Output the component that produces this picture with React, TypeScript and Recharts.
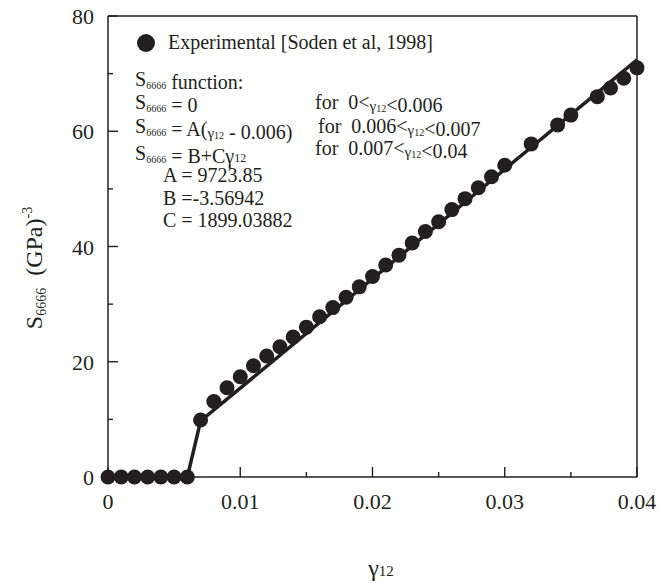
import React from "react";
import {
  ComposedChart,
  Line,
  Scatter,
  XAxis,
  YAxis,
  Legend,
  Customized,
} from "recharts";

const INK = "#231f20";
const FONT = "'Liberation Serif', 'Times New Roman', serif";

// experimental points (Soden et al, 1998)
const strain = [
  0, 0.001, 0.002, 0.003, 0.004, 0.005, 0.006, 0.007, 0.008, 0.009, 0.01,
  0.011, 0.012, 0.013, 0.014, 0.015, 0.016, 0.017, 0.018, 0.019, 0.02, 0.021,
  0.022, 0.023, 0.024, 0.025, 0.026, 0.027, 0.028, 0.029, 0.03, 0.032, 0.034,
  0.035, 0.037, 0.038, 0.039, 0.04,
];
const s6666 = [
  0, 0, 0, 0, 0, 0, 0, 9.9, 13.1, 15.5, 17.4, 19.3, 21.0, 22.6, 24.3, 26.0,
  27.8, 29.4, 31.2, 33.0, 34.8, 36.8, 38.5, 40.6, 42.6, 44.3, 46.4, 48.3, 50.2,
  52.1, 54.1, 57.8, 61.1, 62.8, 66.0, 67.5, 69.2, 71.0,
];

// piecewise S6666 function
const fitStrain = [0, 0.006, 0.007, 0.04];
const fitS = [0, 0, 9.72, 72.39];

const xTicks = [0, 0.005, 0.01, 0.015, 0.02, 0.025, 0.03, 0.035, 0.04];
const xTickLabels = ["0", "", "0.01", "", "0.02", "", "0.03", "", "0.04"];
const yTicks = [0, 10, 20, 30, 40, 50, 60, 70, 80];
const yTickLabels = ["0", "", "20", "", "40", "", "60", "", "80"];

const expData = strain.map((x, i) => ({ x, y: s6666[i] }));
const fitData = fitStrain.map((x, i) => ({ x, fit: fitS[i] }));

// inward ticks: major every other one
function tickLen(index: number) {
  return index % 2 === 0 ? 10 : 5;
}

function BottomTick({ x, y, index }: any) {
  return (
    <g>
      <line x1={x} x2={x} y1={y} y2={y - tickLen(index)} stroke={INK} strokeWidth={1.4} />
      {xTickLabels[index] && (
        <text x={x} y={y + 32} textAnchor="middle" fontSize={22} fontFamily={FONT} fill={INK}>
          {xTickLabels[index]}
        </text>
      )}
    </g>
  );
}

function TopTick({ x, y, index }: any) {
  return <line x1={x} x2={x} y1={y} y2={y + tickLen(index)} stroke={INK} strokeWidth={1.4} />;
}

function LeftTick({ x, y, index }: any) {
  return (
    <g>
      <line x1={x} x2={x + tickLen(index)} y1={y} y2={y} stroke={INK} strokeWidth={1.4} />
      {yTickLabels[index] && (
        <text x={x - 14} y={y + 8} textAnchor="end" fontSize={22} fontFamily={FONT} fill={INK}>
          {yTickLabels[index]}
        </text>
      )}
    </g>
  );
}

function RightTick({ x, y, index }: any) {
  return <line x1={x} x2={x - tickLen(index)} y1={y} y2={y} stroke={INK} strokeWidth={1.4} />;
}

function Dot(props: any) {
  return <circle cx={props.cx} cy={props.cy} r={7.5} fill={INK} />;
}

function S6666({ size = 20 }: { size?: number }) {
  return (
    <>
      <tspan>S</tspan>
      <tspan fontSize={size * 0.5} dy={3}>6666</tspan>
      <tspan dy={-3}>{""}</tspan>
    </>
  );
}

function Gamma12() {
  return (
    <>
      <tspan fontSize={15} dy={2}>γ</tspan>
      <tspan fontSize={10} dy={1}>12</tspan>
      <tspan dy={-3}>{""}</tspan>
    </>
  );
}

function Annotations() {
  const t = { fontSize: 20, fontFamily: FONT, fill: INK, style: { whiteSpace: "pre" as const } };
  return (
    <g>
      <text x={135} y={86} {...t}>
        <S6666 />
        <tspan> function:</tspan>
      </text>
      <text x={135} y={109} {...t}>
        <S6666 />
        <tspan> = 0</tspan>
      </text>
      <text x={315} y={109} {...t}>
        <tspan>for  0&lt;</tspan>
        <Gamma12 />
        <tspan>&lt;0.006</tspan>
      </text>
      <text x={135} y={133} {...t}>
        <S6666 />
        <tspan> = A(</tspan>
        <Gamma12 />
        <tspan> - 0.006)</tspan>
      </text>
      <text x={318} y={133} {...t}>
        <tspan>for  0.006&lt;</tspan>
        <Gamma12 />
        <tspan>&lt;0.007</tspan>
      </text>
      <text x={135} y={160} {...t}>
        <S6666 />
        <tspan> = B+Cγ</tspan>
        <tspan fontSize={12} dy={-1}>12</tspan>
      </text>
      <text x={315} y={155} {...t}>
        <tspan>for  0.007&lt;</tspan>
        <Gamma12 />
        <tspan>&lt;0.04</tspan>
      </text>
      <text x={163} y={182} {...t}>A = 9723.85</text>
      <text x={163} y={205} {...t}>B =-3.56942</text>
      <text x={163} y={227} {...t}>C = 1899.03882</text>

      <text transform="translate(42,268) rotate(-90)" textAnchor="middle" {...t} fontSize={24}>
        <tspan>S</tspan>
        <tspan fontSize={14} dy={4}>6666</tspan>
        <tspan dy={-4}>  (GPa)</tspan>
        <tspan fontSize={14} dy={-10}>-3</tspan>
      </text>

      <text x={381} y={576} textAnchor="middle" {...t} fontSize={24}>
        <tspan>γ</tspan>
        <tspan fontSize={15}>12</tspan>
      </text>
    </g>
  );
}

function LegendContent() {
  return (
    <div style={{ display: "flex", alignItems: "center", fontFamily: FONT, fontSize: 20, color: INK }}>
      <span
        style={{
          display: "inline-block",
          width: 18,
          height: 18,
          borderRadius: "50%",
          background: INK,
          marginRight: 13,
        }}
      />
      <span>Experimental [Soden et al, 1998]</span>
    </div>
  );
}

export default function App() {
  return (
    <div style={{ position: "absolute", left: 0, top: 0, background: "#fff" }}>
      <ComposedChart
        width={660}
        height={583}
        margin={{ top: 15, right: 22, bottom: 66, left: 48 }}
      >
        <XAxis
          xAxisId="b"
          dataKey="x"
          type="number"
          domain={[0, 0.04]}
          ticks={xTicks}
          height={40}
          tickSize={0}
          tickMargin={0}
          tickLine={false}
          axisLine={{ stroke: INK, strokeWidth: 1.5 }}
          tick={<BottomTick />}
          interval={0}
        />
        <XAxis
          xAxisId="t"
          dataKey="x"
          type="number"
          orientation="top"
          domain={[0, 0.04]}
          ticks={xTicks}
          height={1}
          tickSize={0}
          tickMargin={0}
          tickLine={false}
          axisLine={{ stroke: INK, strokeWidth: 1.5 }}
          tick={<TopTick />}
          interval={0}
        />
        <YAxis
          yAxisId="l"
          type="number"
          domain={[0, 80]}
          ticks={yTicks}
          width={60}
          tickSize={0}
          tickMargin={0}
          tickLine={false}
          axisLine={{ stroke: INK, strokeWidth: 1.5 }}
          tick={<LeftTick />}
          interval={0}
        />
        <YAxis
          yAxisId="r"
          orientation="right"
          type="number"
          domain={[0, 80]}
          ticks={yTicks}
          width={1}
          tickSize={0}
          tickMargin={0}
          tickLine={false}
          axisLine={{ stroke: INK, strokeWidth: 1.5 }}
          tick={<RightTick />}
          interval={0}
        />
        <Legend
          layout="horizontal"
          verticalAlign="middle"
          align="center"
          content={<LegendContent />}
          wrapperStyle={{ position: "absolute", left: 137, top: 31, width: "auto" }}
        />
        <Line
          xAxisId="b"
          yAxisId="l"
          data={fitData}
          dataKey="fit"
          stroke={INK}
          strokeWidth={3.5}
          dot={false}
          activeDot={false}
          legendType="none"
          isAnimationActive={false}
        />
        <Scatter
          xAxisId="b"
          yAxisId="l"
          name="Experimental [Soden et al, 1998]"
          data={expData}
          dataKey="y"
          fill={INK}
          shape={<Dot />}
          isAnimationActive={false}
        />
        <Customized component={<Annotations />} />
      </ComposedChart>
    </div>
  );
}
